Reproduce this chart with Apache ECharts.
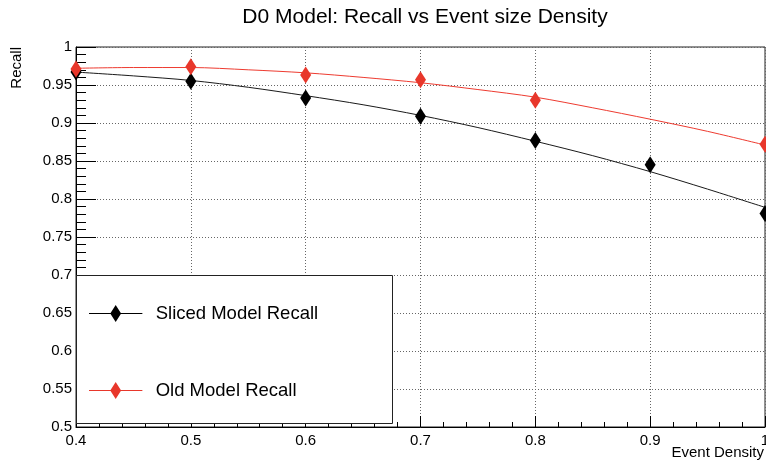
<!DOCTYPE html>
<html>
<head>
<meta charset="utf-8">
<script src="https://cdn.jsdelivr.net/npm/echarts@6/dist/echarts.min.js"></script>
<style>
html,body{margin:0;padding:0;background:#fff;}
#chart{width:766px;height:463px;}
</style>
</head>
<body>
<div id="chart"></div>
<script>
// Measured points
const slicedX = [0.4, 0.5, 0.6, 0.7, 0.8, 0.9, 1.0];
const slicedRecall = [0.967, 0.955, 0.933, 0.909, 0.877, 0.845, 0.781];
const oldX = [0.4, 0.5, 0.6, 0.7, 0.8, 1.0];
const oldRecall = [0.971, 0.974, 0.963, 0.957, 0.930, 0.872];
// Fit curves
const fitX = [0.4, 0.45, 0.5, 0.55, 0.6, 0.65, 0.7, 0.75, 0.8, 0.85, 0.9, 0.95, 1.0];
const slicedFit = [0.967, 0.962, 0.956, 0.947, 0.936, 0.924, 0.910, 0.894, 0.876, 0.857, 0.836, 0.813, 0.789];
const oldFit = [0.972, 0.973, 0.973, 0.970, 0.966, 0.960, 0.953, 0.944, 0.934, 0.920, 0.905, 0.889, 0.871];

const titleText = 'D0 Model: Recall vs Event size Density';
const xName = 'Event Density';
const yName = 'Recall';
const slicedName = 'Sliced Model Recall';
const oldName = 'Old Model Recall';

const FONT = "'Liberation Sans', Arial, Helvetica, sans-serif";
const BLACK = '#000000';
const RED = '#e8372b';
const zip = (xs, ys) => xs.map((x, i) => [x, ys[i]]);
const legendIcon = 'path://M0,8L54,8L54,9.2L0,9.2Z M27,0L32.5,8.6L27,17.2L21.5,8.6Z';

const chart = echarts.init(document.getElementById('chart'), null, {renderer: 'canvas'});
chart.setOption({
  animation: false,
  backgroundColor: '#ffffff',
  textStyle: {fontFamily: FONT},
  title: {
    text: titleText,
    left: 420, textAlign: 'center', top: 2,
    textStyle: {fontSize: 21, fontWeight: 'normal', color: '#000', fontFamily: FONT}
  },
  grid: {
    left: 76, right: 1, top: 47, bottom: 36,
    containLabel: false, outerBoundsMode: 'none',
    show: true, borderColor: '#222', borderWidth: 1, backgroundColor: 'transparent'
  },
  xAxis: {
    type: 'value', min: 0.4, max: 1, interval: 0.1,
    axisLine: {show: true, onZero: false, lineStyle: {color: '#000', width: 1}},
    axisTick: {show: true, inside: true, length: 11, lineStyle: {color: '#000'}},
    minorTick: {show: true, splitNumber: 5, length: 5, lineStyle: {color: '#000'}},
    axisLabel: {fontSize: 15, color: '#000', margin: 6, fontFamily: FONT,
      formatter: v => String(Math.round(v * 10) / 10)},
    splitLine: {show: true, lineStyle: {color: '#666', type: [1, 2], width: 1}}
  },
  yAxis: {
    type: 'value', min: 0.5, max: 1, interval: 0.05,
    name: yName, nameLocation: 'end', nameRotate: 90, nameGap: 0,
    nameTextStyle: {fontSize: 15, color: '#000', fontFamily: FONT, align: 'right', verticalAlign: 'bottom', padding: [0, 0, 52, 0]},
    axisLine: {show: true, onZero: false, lineStyle: {color: '#000', width: 1}},
    axisTick: {show: true, inside: true, length: 20, lineStyle: {color: '#000'}},
    minorTick: {show: true, splitNumber: 5, length: 10, lineStyle: {color: '#000'}},
    axisLabel: {fontSize: 15, color: '#000', margin: 4, fontFamily: FONT,
      formatter: v => String(Math.round(v * 100) / 100)},
    splitLine: {show: true, lineStyle: {color: '#666', type: [1, 2], width: 1}}
  },
  legend: {
    orient: 'vertical', left: 89, top: 304, z: 10,
    itemWidth: 54, itemHeight: 17, itemGap: 58, padding: 0,
    selectedMode: false,
    textStyle: {fontSize: 18.5, color: '#000', fontFamily: FONT, padding: [0, 0, 0, 8]},
    data: [{name: slicedName, icon: legendIcon}, {name: oldName, icon: legendIcon}]
  },
  graphic: [
    {
      type: 'rect', z: 8,
      shape: {x: 76.5, y: 275.5, width: 316, height: 148},
      style: {fill: '#ffffff', stroke: '#222', lineWidth: 1}
    },
    {
      type: 'text', z: 10, right: 2, top: 445,
      style: {text: xName, fontSize: 15, fill: '#000', fontFamily: FONT}
    }
  ],
  series: [
    {
      name: 'Sliced fit', type: 'line', data: zip(fitX, slicedFit),
      smooth: 0.3, showSymbol: false, symbol: 'none', z: 2,
      lineStyle: {color: '#1a1a1a', width: 1}, itemStyle: {color: '#1a1a1a'}
    },
    {
      name: 'Old fit', type: 'line', data: zip(fitX, oldFit),
      smooth: 0.3, showSymbol: false, symbol: 'none', z: 2,
      lineStyle: {color: '#ee3b30', width: 1}, itemStyle: {color: '#ee3b30'}
    },
    {
      name: slicedName, type: 'scatter', data: zip(slicedX, slicedRecall),
      symbol: 'diamond', symbolSize: [11, 17], z: 3,
      itemStyle: {color: BLACK, opacity: 1}
    },
    {
      name: oldName, type: 'scatter', data: zip(oldX, oldRecall),
      symbol: 'diamond', symbolSize: [11, 17], z: 4,
      itemStyle: {color: RED, opacity: 1}
    }
  ]
});
</script>
</body>
</html>
